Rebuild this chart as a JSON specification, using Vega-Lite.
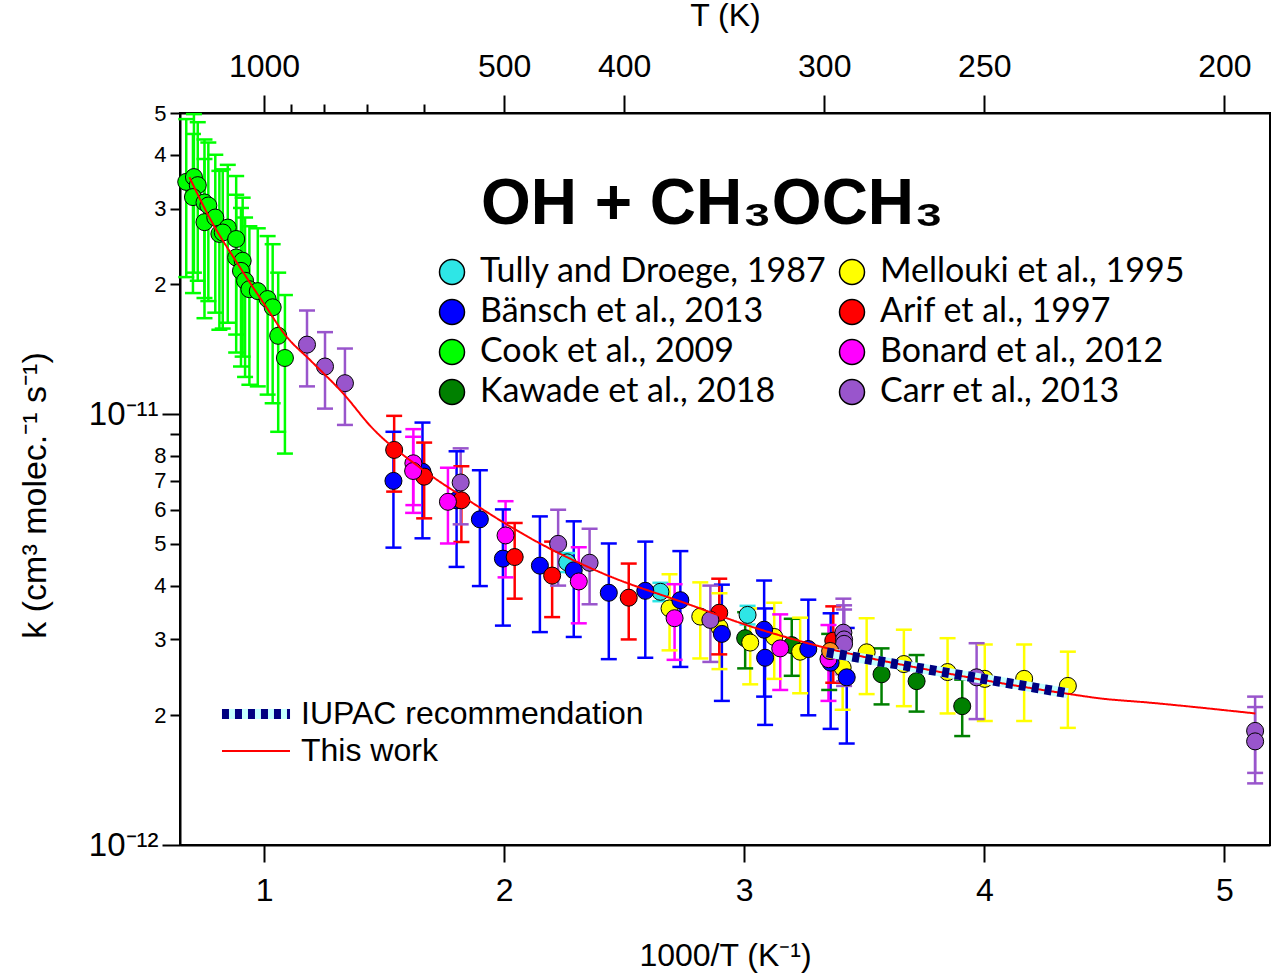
{
  "$schema": "https://vega.github.io/schema/vega-lite/v6.json",
  "description": "Arrhenius plot of OH + CH3OCH3 rate coefficients",
  "autosize": "none",
  "width": 1090,
  "height": 732,
  "padding": {"left": 180, "top": 113, "right": 5, "bottom": 130},
  "background": "white",
  "datasets": {
    "points": [
      {"study": "Cook et al., 2009", "x": 0.676, "k": 3.46e-11, "lo": 2.08e-11, "hi": 4.84e-11},
      {"study": "Cook et al., 2009", "x": 0.708, "k": 3.55e-11, "lo": 2.13e-11, "hi": 4.97e-11},
      {"study": "Cook et al., 2009", "x": 0.724, "k": 3.40e-11, "lo": 2.04e-11, "hi": 4.76e-11},
      {"study": "Cook et al., 2009", "x": 0.704, "k": 3.19e-11, "lo": 1.91e-11, "hi": 4.47e-11},
      {"study": "Cook et al., 2009", "x": 0.752, "k": 3.10e-11, "lo": 1.86e-11, "hi": 4.34e-11},
      {"study": "Cook et al., 2009", "x": 0.768, "k": 3.05e-11, "lo": 1.83e-11, "hi": 4.27e-11},
      {"study": "Cook et al., 2009", "x": 0.752, "k": 2.79e-11, "lo": 1.67e-11, "hi": 3.91e-11},
      {"study": "Cook et al., 2009", "x": 0.797, "k": 2.86e-11, "lo": 1.72e-11, "hi": 4.00e-11},
      {"study": "Cook et al., 2009", "x": 0.814, "k": 2.62e-11, "lo": 1.57e-11, "hi": 3.67e-11},
      {"study": "Cook et al., 2009", "x": 0.849, "k": 2.71e-11, "lo": 1.63e-11, "hi": 3.79e-11},
      {"study": "Cook et al., 2009", "x": 0.828, "k": 2.64e-11, "lo": 1.58e-11, "hi": 3.70e-11},
      {"study": "Cook et al., 2009", "x": 0.884, "k": 2.55e-11, "lo": 1.53e-11, "hi": 3.57e-11},
      {"study": "Cook et al., 2009", "x": 0.884, "k": 2.31e-11, "lo": 1.39e-11, "hi": 3.23e-11},
      {"study": "Cook et al., 2009", "x": 0.911, "k": 2.27e-11, "lo": 1.36e-11, "hi": 3.18e-11},
      {"study": "Cook et al., 2009", "x": 0.904, "k": 2.15e-11, "lo": 1.29e-11, "hi": 3.01e-11},
      {"study": "Cook et al., 2009", "x": 0.921, "k": 2.04e-11, "lo": 1.22e-11, "hi": 2.86e-11},
      {"study": "Cook et al., 2009", "x": 0.939, "k": 1.95e-11, "lo": 1.17e-11, "hi": 2.73e-11},
      {"study": "Cook et al., 2009", "x": 0.974, "k": 1.93e-11, "lo": 1.16e-11, "hi": 2.70e-11},
      {"study": "Cook et al., 2009", "x": 1.015, "k": 1.85e-11, "lo": 1.11e-11, "hi": 2.59e-11},
      {"study": "Cook et al., 2009", "x": 1.036, "k": 1.77e-11, "lo": 1.06e-11, "hi": 2.48e-11},
      {"study": "Cook et al., 2009", "x": 1.059, "k": 1.52e-11, "lo": 9.1e-12, "hi": 2.13e-11},
      {"study": "Cook et al., 2009", "x": 1.087, "k": 1.35e-11, "lo": 8.1e-12, "hi": 1.89e-11},
      {"study": "Tully and Droege, 1987", "x": 2.263, "k": 4.53e-12, "lo": 4.30e-12, "hi": 4.76e-12},
      {"study": "Tully and Droege, 1987", "x": 2.651, "k": 3.87e-12, "lo": 3.68e-12, "hi": 4.06e-12},
      {"study": "Tully and Droege, 1987", "x": 3.014, "k": 3.42e-12, "lo": 3.25e-12, "hi": 3.59e-12},
      {"study": "Kawade et al., 2018", "x": 3.004, "k": 3.02e-12, "lo": 2.57e-12, "hi": 3.47e-12},
      {"study": "Kawade et al., 2018", "x": 3.198, "k": 2.91e-12, "lo": 2.47e-12, "hi": 3.35e-12},
      {"study": "Kawade et al., 2018", "x": 3.354, "k": 2.69e-12, "lo": 2.29e-12, "hi": 3.09e-12},
      {"study": "Kawade et al., 2018", "x": 3.572, "k": 2.49e-12, "lo": 2.12e-12, "hi": 2.86e-12},
      {"study": "Kawade et al., 2018", "x": 3.718, "k": 2.40e-12, "lo": 2.04e-12, "hi": 2.76e-12},
      {"study": "Kawade et al., 2018", "x": 3.908, "k": 2.10e-12, "lo": 1.79e-12, "hi": 2.42e-12},
      {"study": "Mellouki et al., 1995", "x": 2.689, "k": 3.54e-12, "lo": 2.83e-12, "hi": 4.25e-12},
      {"study": "Mellouki et al., 1995", "x": 2.817, "k": 3.39e-12, "lo": 2.71e-12, "hi": 4.07e-12},
      {"study": "Mellouki et al., 1995", "x": 2.897, "k": 3.20e-12, "lo": 2.56e-12, "hi": 3.84e-12},
      {"study": "Mellouki et al., 1995", "x": 3.025, "k": 2.95e-12, "lo": 2.36e-12, "hi": 3.54e-12},
      {"study": "Mellouki et al., 1995", "x": 3.125, "k": 3.04e-12, "lo": 2.43e-12, "hi": 3.65e-12},
      {"study": "Mellouki et al., 1995", "x": 3.233, "k": 2.81e-12, "lo": 2.25e-12, "hi": 3.37e-12},
      {"study": "Mellouki et al., 1995", "x": 3.410, "k": 2.58e-12, "lo": 2.06e-12, "hi": 3.10e-12},
      {"study": "Mellouki et al., 1995", "x": 3.510, "k": 2.80e-12, "lo": 2.24e-12, "hi": 3.36e-12},
      {"study": "Mellouki et al., 1995", "x": 3.665, "k": 2.63e-12, "lo": 2.10e-12, "hi": 3.16e-12},
      {"study": "Mellouki et al., 1995", "x": 3.847, "k": 2.52e-12, "lo": 2.02e-12, "hi": 3.02e-12},
      {"study": "Mellouki et al., 1995", "x": 4.002, "k": 2.43e-12, "lo": 1.94e-12, "hi": 2.92e-12},
      {"study": "Mellouki et al., 1995", "x": 4.166, "k": 2.43e-12, "lo": 1.94e-12, "hi": 2.92e-12},
      {"study": "Mellouki et al., 1995", "x": 4.348, "k": 2.34e-12, "lo": 1.87e-12, "hi": 2.81e-12},
      {"study": "Bänsch et al., 2013", "x": 1.539, "k": 7.00e-12, "lo": 4.90e-12, "hi": 9.10e-12},
      {"study": "Bänsch et al., 2013", "x": 1.660, "k": 7.35e-12, "lo": 5.15e-12, "hi": 9.56e-12},
      {"study": "Bänsch et al., 2013", "x": 1.802, "k": 6.31e-12, "lo": 4.42e-12, "hi": 8.20e-12},
      {"study": "Bänsch et al., 2013", "x": 1.899, "k": 5.70e-12, "lo": 3.99e-12, "hi": 7.41e-12},
      {"study": "Bänsch et al., 2013", "x": 1.995, "k": 4.62e-12, "lo": 3.23e-12, "hi": 6.01e-12},
      {"study": "Bänsch et al., 2013", "x": 2.149, "k": 4.45e-12, "lo": 3.12e-12, "hi": 5.79e-12},
      {"study": "Bänsch et al., 2013", "x": 2.290, "k": 4.34e-12, "lo": 3.04e-12, "hi": 5.64e-12},
      {"study": "Bänsch et al., 2013", "x": 2.436, "k": 3.85e-12, "lo": 2.70e-12, "hi": 5.01e-12},
      {"study": "Bänsch et al., 2013", "x": 2.588, "k": 3.89e-12, "lo": 2.72e-12, "hi": 5.06e-12},
      {"study": "Bänsch et al., 2013", "x": 2.734, "k": 3.70e-12, "lo": 2.59e-12, "hi": 4.81e-12},
      {"study": "Bänsch et al., 2013", "x": 2.907, "k": 3.09e-12, "lo": 2.16e-12, "hi": 4.02e-12},
      {"study": "Bänsch et al., 2013", "x": 3.083, "k": 3.16e-12, "lo": 2.21e-12, "hi": 4.11e-12},
      {"study": "Bänsch et al., 2013", "x": 3.087, "k": 2.72e-12, "lo": 1.90e-12, "hi": 3.54e-12},
      {"study": "Bänsch et al., 2013", "x": 3.267, "k": 2.85e-12, "lo": 2.00e-12, "hi": 3.71e-12},
      {"study": "Bänsch et al., 2013", "x": 3.360, "k": 2.65e-12, "lo": 1.86e-12, "hi": 3.45e-12},
      {"study": "Bänsch et al., 2013", "x": 3.427, "k": 2.45e-12, "lo": 1.72e-12, "hi": 3.19e-12},
      {"study": "Arif et al., 1997", "x": 1.542, "k": 8.26e-12, "lo": 6.61e-12, "hi": 9.91e-12},
      {"study": "Arif et al., 1997", "x": 1.667, "k": 7.16e-12, "lo": 5.73e-12, "hi": 8.59e-12},
      {"study": "Arif et al., 1997", "x": 1.822, "k": 6.31e-12, "lo": 5.05e-12, "hi": 7.57e-12},
      {"study": "Arif et al., 1997", "x": 2.044, "k": 4.66e-12, "lo": 3.73e-12, "hi": 5.59e-12},
      {"study": "Arif et al., 1997", "x": 2.200, "k": 4.22e-12, "lo": 3.38e-12, "hi": 5.06e-12},
      {"study": "Arif et al., 1997", "x": 2.519, "k": 3.75e-12, "lo": 3.00e-12, "hi": 4.50e-12},
      {"study": "Arif et al., 1997", "x": 2.896, "k": 3.46e-12, "lo": 2.77e-12, "hi": 4.15e-12},
      {"study": "Arif et al., 1997", "x": 3.371, "k": 2.98e-12, "lo": 2.38e-12, "hi": 3.58e-12},
      {"study": "Bonard et al., 2012", "x": 1.622, "k": 7.69e-12, "lo": 6.15e-12, "hi": 9.23e-12},
      {"study": "Bonard et al., 2012", "x": 1.621, "k": 7.38e-12, "lo": 5.90e-12, "hi": 8.86e-12},
      {"study": "Bonard et al., 2012", "x": 1.766, "k": 6.26e-12, "lo": 5.01e-12, "hi": 7.51e-12},
      {"study": "Bonard et al., 2012", "x": 2.006, "k": 5.23e-12, "lo": 4.18e-12, "hi": 6.28e-12},
      {"study": "Bonard et al., 2012", "x": 2.311, "k": 4.09e-12, "lo": 3.27e-12, "hi": 4.91e-12},
      {"study": "Bonard et al., 2012", "x": 2.710, "k": 3.36e-12, "lo": 2.69e-12, "hi": 4.03e-12},
      {"study": "Bonard et al., 2012", "x": 3.150, "k": 2.86e-12, "lo": 2.29e-12, "hi": 3.43e-12},
      {"study": "Bonard et al., 2012", "x": 3.351, "k": 2.70e-12, "lo": 2.16e-12, "hi": 3.24e-12},
      {"study": "Carr et al., 2013", "x": 1.179, "k": 1.45e-11, "lo": 1.16e-11, "hi": 1.74e-11},
      {"study": "Carr et al., 2013", "x": 1.254, "k": 1.29e-11, "lo": 1.03e-11, "hi": 1.55e-11},
      {"study": "Carr et al., 2013", "x": 1.337, "k": 1.18e-11, "lo": 9.44e-12, "hi": 1.42e-11},
      {"study": "Carr et al., 2013", "x": 1.819, "k": 6.94e-12, "lo": 5.55e-12, "hi": 8.33e-12},
      {"study": "Carr et al., 2013", "x": 2.225, "k": 5.00e-12, "lo": 4.00e-12, "hi": 6.00e-12},
      {"study": "Carr et al., 2013", "x": 2.356, "k": 4.52e-12, "lo": 3.62e-12, "hi": 5.42e-12},
      {"study": "Carr et al., 2013", "x": 2.859, "k": 3.33e-12, "lo": 2.66e-12, "hi": 4.00e-12},
      {"study": "Carr et al., 2013", "x": 3.413, "k": 3.11e-12, "lo": 2.49e-12, "hi": 3.73e-12},
      {"study": "Carr et al., 2013", "x": 3.416, "k": 3.00e-12, "lo": 2.40e-12, "hi": 3.60e-12},
      {"study": "Carr et al., 2013", "x": 3.416, "k": 2.93e-12, "lo": 2.34e-12, "hi": 3.52e-12},
      {"study": "Carr et al., 2013", "x": 3.968, "k": 2.45e-12, "lo": 1.96e-12, "hi": 2.94e-12},
      {"study": "Carr et al., 2013", "x": 5.128, "k": 1.84e-12, "lo": 1.47e-12, "hi": 2.21e-12},
      {"study": "Carr et al., 2013", "x": 5.128, "k": 1.74e-12, "lo": 1.39e-12, "hi": 2.09e-12},
      {"study": "Other", "x": 3.358, "k": 2.82e-12}
    ],
    "lines": [
      {"line": "This work", "x": 0.689, "k": 3.55e-11},
      {"line": "This work", "x": 0.780, "k": 2.81e-11},
      {"line": "This work", "x": 0.891, "k": 2.23e-11},
      {"line": "This work", "x": 1.001, "k": 1.80e-11},
      {"line": "This work", "x": 1.091, "k": 1.52e-11},
      {"line": "This work", "x": 1.195, "k": 1.33e-11},
      {"line": "This work", "x": 1.334, "k": 1.11e-11},
      {"line": "This work", "x": 1.445, "k": 9.36e-12},
      {"line": "This work", "x": 1.650, "k": 7.51e-12},
      {"line": "This work", "x": 1.861, "k": 6.26e-12},
      {"line": "This work", "x": 2.138, "k": 5.05e-12},
      {"line": "This work", "x": 2.415, "k": 4.26e-12},
      {"line": "This work", "x": 2.762, "k": 3.63e-12},
      {"line": "This work", "x": 3.039, "k": 3.20e-12},
      {"line": "This work", "x": 3.316, "k": 2.89e-12},
      {"line": "This work", "x": 3.850, "k": 2.50e-12},
      {"line": "This work", "x": 4.356, "k": 2.24e-12},
      {"line": "This work", "x": 4.480, "k": 2.19e-12},
      {"line": "This work", "x": 4.688, "k": 2.14e-12},
      {"line": "This work", "x": 5.129, "k": 2.02e-12},
      {"line": "IUPAC recommendation", "x": 3.344, "k": 2.80e-12},
      {"line": "IUPAC recommendation", "x": 4.348, "k": 2.25e-12}
    ],
    "labels": [
      {"label": "OH + CH₃OCH₃", "x": 2.867, "k": 2.76e-11}
    ]
  },
  "layer": [
    {
      "data": {"name": "points"},
      "mark": {"type": "rule", "strokeWidth": 2.5},
      "encoding": {
        "x": {
          "field": "x", "type": "quantitative",
          "scale": {"domain": [0.65, 5.19], "nice": false, "zero": false},
          "axis": {
            "orient": "bottom", "title": "1000/T (K⁻¹)", "values": [1, 2, 3, 4, 5],
            "format": "d", "tickSize": 17, "labelPadding": 13, "titlePadding": 34
          }
        },
        "y": {
          "field": "lo", "type": "quantitative",
          "scale": {"type": "log", "domain": [1e-12, 5e-11], "nice": false},
          "axis": {
            "orient": "left",
            "title": "k (cm³ molec.⁻¹ s⁻¹)",
            "titleFontSize": 34, "titleY": 382,
            "values": [1e-12, 2e-12, 3e-12, 4e-12, 5e-12, 6e-12, 7e-12, 8e-12, 9e-12, 1e-11, 2e-11, 3e-11, 4e-11, 5e-11],
            "labelExpr": "round(datum.value*1e12) == 1 ? '10⁻¹²' : round(datum.value*1e12) == 10 ? '10⁻¹¹' : round(datum.value*1e12) == 9 ? '' : round(datum.value*1e12) < 10 ? '' + round(datum.value*1e12) : '' + round(datum.value*1e11)",
            "tickSize": {"condition": {"test": "round(datum.value*1e12) == 1 || round(datum.value*1e12) == 10", "value": 18}, "value": 10},
            "labelFontSize": {"condition": {"test": "round(datum.value*1e12) == 1 || round(datum.value*1e12) == 10", "value": 33}, "value": 22},
            "labelPadding": 4,
            "titlePadding": 36
          }
        },
        "y2": {"field": "hi"},
        "color": {
          "field": "study", "type": "nominal",
          "scale": {
            "domain": ["Other", "Tully and Droege, 1987", "Bänsch et al., 2013", "Cook et al., 2009", "Kawade et al., 2018", "Mellouki et al., 1995", "Arif et al., 1997", "Bonard et al., 2012", "Carr et al., 2013"],
            "range": ["#ff8c1a", "#2ee6e6", "#0000ff", "#00ff00", "#008000", "#ffff00", "#ff0000", "#ff00ff", "#9955cc"]
          },
          "legend": null
        }
      }
    },
    {
      "data": {"name": "points"},
      "mark": {"type": "tick", "orient": "horizontal", "size": 16, "thickness": 2.5, "opacity": 1},
      "encoding": {
        "x": {
          "field": "x", "type": "quantitative",
          "axis": {
            "orient": "top", "title": "T (K)",
            "values": [1, 1.1111, 1.25, 1.4286, 1.6667, 2, 2.5, 3.3333, 4, 5],
            "labelExpr": "round(1000/datum.value) >= 600 && round(1000/datum.value) <= 900 ? '' : '' + round(1000/datum.value)",
            "tickSize": {"condition": {"test": "round(1000/datum.value) >= 600 && round(1000/datum.value) <= 900", "value": 9}, "value": 18},
            "labelPadding": 12, "titlePadding": 18
          }
        },
        "y": {"field": "lo", "type": "quantitative", "axis": null},
        "color": {"field": "study", "type": "nominal", "legend": null}
      }
    },
    {
      "data": {"name": "points"},
      "mark": {"type": "tick", "orient": "horizontal", "size": 16, "thickness": 2.5, "opacity": 1},
      "encoding": {
        "x": {"field": "x", "type": "quantitative", "axis": null},
        "y": {"field": "hi", "type": "quantitative", "axis": null},
        "color": {"field": "study", "type": "nominal", "legend": null}
      }
    },
    {
      "data": {"name": "points"},
      "mark": {"type": "point", "shape": "circle", "filled": true, "stroke": "black", "strokeWidth": 1, "size": 290, "opacity": 1},
      "encoding": {
        "x": {"field": "x", "type": "quantitative", "axis": null},
        "y": {"field": "k", "type": "quantitative", "axis": null},
        "fill": {
          "field": "study", "type": "nominal",
          "scale": {
            "domain": ["Tully and Droege, 1987", "Bänsch et al., 2013", "Cook et al., 2009", "Kawade et al., 2018", "Mellouki et al., 1995", "Arif et al., 1997", "Bonard et al., 2012", "Carr et al., 2013", "Other"],
            "range": ["#2ee6e6", "#0000ff", "#00ff00", "#008000", "#ffff00", "#ff0000", "#ff00ff", "#9955cc", "#ff8c1a"]
          },
          "legend": {
            "orient": "none", "legendX": 255, "legendY": 142, "title": null,
            "values": ["Tully and Droege, 1987", "Bänsch et al., 2013", "Cook et al., 2009", "Kawade et al., 2018", "Mellouki et al., 1995", "Arif et al., 1997", "Bonard et al., 2012", "Carr et al., 2013"],
            "columns": 2, "symbolType": "circle", "symbolSize": 625,
            "symbolStrokeColor": "black", "symbolStrokeWidth": 1.5, "symbolOpacity": 1,
            "labelFont": "Lato", "labelFontSize": 34, "labelColor": "black", "labelLimit": 0,
            "labelOffset": 11, "rowPadding": 6, "columnPadding": 8
          }
        }
      }
    },
    {
      "data": {"name": "lines"},
      "transform": [{"filter": "datum.line == 'IUPAC recommendation'"}],
      "mark": {"type": "line", "strokeWidth": 10, "strokeCap": "butt"},
      "encoding": {
        "x": {"field": "x", "type": "quantitative", "axis": null},
        "y": {"field": "k", "type": "quantitative", "axis": null},
        "stroke": {
          "field": "line", "type": "nominal",
          "scale": {"domain": ["IUPAC recommendation"], "range": ["#c4ffff"]},
          "legend": {
            "orient": "none", "legendX": 57, "legendY": 582, "title": null,
            "symbolType": "M-2.43,0H2.43", "symbolSize": 784, "symbolStrokeWidth": 10,
            "labelFont": "Liberation Sans", "labelFontSize": 32, "labelOpacity": 0, "labelLimit": 0,
            "labelOffset": 26, "rowPadding": 1
          }
        }
      }
    },
    {
      "data": {"name": "lines"},
      "mark": {"type": "line", "strokeCap": "butt", "interpolate": "monotone"},
      "encoding": {
        "x": {"field": "x", "type": "quantitative", "axis": null},
        "y": {"field": "k", "type": "quantitative", "axis": null},
        "stroke": {
          "field": "line", "type": "nominal",
          "scale": {"domain": ["IUPAC recommendation", "This work"], "range": ["#000080", "#ff0000"]},
          "legend": {
            "orient": "none", "legendX": 57, "legendY": 582, "title": null,
            "symbolType": "M-2.43,0H2.43", "symbolSize": 784,
            "labelFont": "Liberation Sans", "labelFontSize": 32, "labelColor": "black", "labelLimit": 0,
            "labelOffset": 26, "rowPadding": 1
          }
        },
        "strokeDash": {
          "field": "line", "type": "nominal",
          "scale": {"domain": ["IUPAC recommendation", "This work"], "range": [[7, 6], [1, 0]]}
        },
        "strokeWidth": {
          "field": "line", "type": "ordinal",
          "scale": {"type": "ordinal", "domain": ["IUPAC recommendation", "This work"], "range": [10, 2]}
        }
      }
    },
    {
      "data": {"name": "labels"},
      "mark": {"type": "text", "font": "Liberation Sans Narrow, Liberation Sans", "fontSize": 64, "fontWeight": "bold", "align": "center", "baseline": "alphabetic", "color": "black"},
      "encoding": {
        "x": {"field": "x", "type": "quantitative", "axis": null},
        "y": {"field": "k", "type": "quantitative", "axis": null},
        "text": {"field": "label"}
      }
    }
  ],
  "resolve": {
    "axis": {"x": "independent", "y": "independent"},
    "scale": {"stroke": "independent", "strokeDash": "independent", "strokeWidth": "independent"}
  },
  "config": {
    "view": {"stroke": "black", "strokeWidth": 2},
    "axis": {
      "grid": false,
      "domainColor": "black", "domainWidth": 2,
      "tickColor": "black", "tickWidth": 2,
      "labelColor": "black", "titleColor": "black",
      "labelFont": "Liberation Sans", "titleFont": "Liberation Sans",
      "labelFontSize": 32, "titleFontSize": 32, "titleFontWeight": "normal"
    }
  }
}
